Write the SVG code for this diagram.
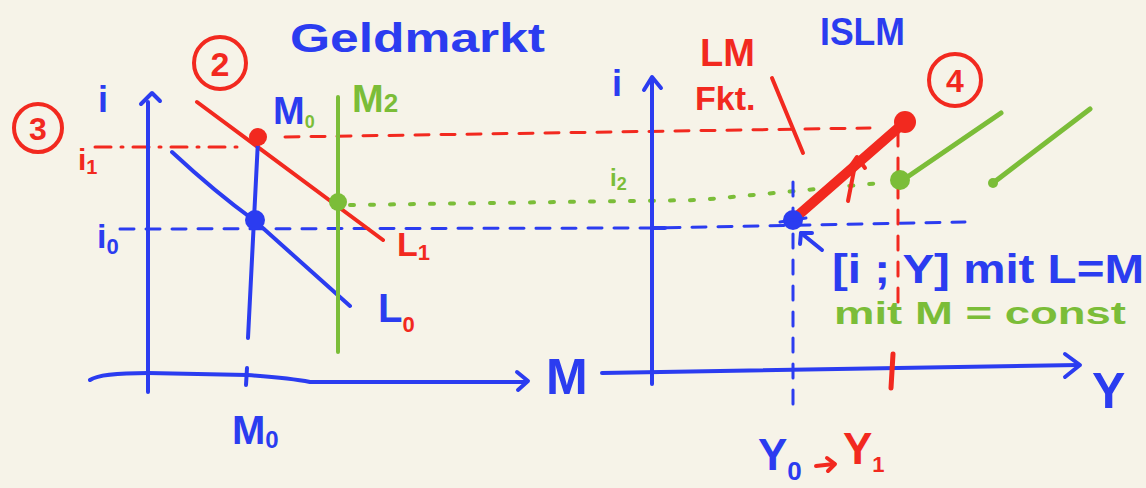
<svg xmlns="http://www.w3.org/2000/svg" width="1146" height="488" viewBox="0 0 1146 488">
<style>
.s{fill:none;stroke-linecap:round;stroke-linejoin:round;stroke-width:4}
.b{stroke:#2b3cf0}.r{stroke:#f2291f}.g{stroke:#7bbd38}
.tb{fill:#2b3cf0}.tr{fill:#f2291f}.tg{fill:#7bbd38}
text{font-family:"Liberation Sans","DejaVu Sans",sans-serif;font-weight:bold}
.dash{stroke-dasharray:14 12}
.dot{stroke-dasharray:4 16}
.dd{stroke-dasharray:16 10 2 10}
.w3{stroke-width:3}.w5{stroke-width:5}.w9{stroke-width:10}
</style>
<rect width="1146" height="488" fill="#f6f3e8"/>

<g id="guides">
  <path class="s r dd w3" d="M95,147 L240,147"/>
  <path class="s r dash w3" d="M285,137 L870,128"/>
  <path class="s g dot" d="M350,205 L700,200 L880,183"/>
  <path class="s b dash w3" d="M120,229 L650,228 L965,222"/>
  <path class="s b dash w3" d="M793,182 L793,412"/>
  <path class="s r dash w3" d="M898,132 L898,310"/>
</g>

<g id="left-axes">
  <path class="s b" d="M148,392 L148,102"/>
  <path class="s b" d="M141,104 L152,93 L160,101"/>
  <path class="s b" d="M90,380 Q100,373 148,373 L247,375 Q290,378 310,382 L525,382"/>
  <path class="s b" d="M517,372 L528,381 L518,390"/>
  <path class="s b" d="M247,368 L246,385"/>
</g>

<g id="left-curves">
  <path class="s r" d="M197,102 L383,240"/>
  <path class="s b" d="M258,140 L248,338"/>
  <path class="s b" d="M172,152 Q215,192 255,221 L350,306"/>
  <path class="s g" d="M338,97 L338,352"/>
</g>

<g id="left-points">
  <circle cx="258" cy="137" r="9" class="tr"/>
  <circle cx="255" cy="220" r="10" class="tb"/>
  <circle cx="338" cy="202" r="9" class="tg"/>
</g>

<g id="left-labels">
  <text x="98" y="112" font-size="36" class="tb">i</text>
  <text x="78" y="170" font-size="30" class="tr">i<tspan font-size="20" dy="4">1</tspan></text>
  <text x="97" y="248" font-size="34" class="tb">i<tspan font-size="22" dy="6">0</tspan></text>
  <text x="273" y="124" font-size="38" class="tb">M<tspan font-size="18" dy="4" class="tg">0</tspan></text>
  <text x="352" y="112" font-size="38" class="tg">M<tspan font-size="26" dy="0">2</tspan></text>
  <text x="397" y="256" font-size="34" class="tr">L<tspan font-size="22" dy="4">1</tspan></text>
  <text x="378" y="322" font-size="40" class="tb">L<tspan font-size="22" dy="10" class="tr">0</tspan></text>
  <text x="232" y="444" font-size="40" class="tb">M<tspan font-size="24" dy="4">0</tspan></text>
  <text x="546" y="394" font-size="50" class="tb">M</text>
  <text x="290" y="52" font-size="40" class="tb" textLength="255" lengthAdjust="spacingAndGlyphs">Geldmarkt</text>
</g>

<g id="step-3">
  <circle cx="38" cy="128" r="24" class="s r"/>
  <text x="38" y="140" font-size="32" text-anchor="middle" class="tr">3</text>
</g>
<g id="step-2">
  <circle cx="220" cy="63" r="26" class="s r"/>
  <text x="220" y="76" font-size="34" text-anchor="middle" class="tr">2</text>
</g>
<g id="step-4">
  <circle cx="955" cy="80" r="26" class="s r"/>
  <text x="955" y="92" font-size="32" text-anchor="middle" class="tr">4</text>
</g>

<g id="right-axes">
  <path class="s b" d="M652,384 L652,80"/>
  <path class="s b" d="M644,90 L652,77 L661,88"/>
  <path class="s b" d="M602,373 L1078,365"/>
  <path class="s b" d="M1065,354 L1080,365 L1065,377"/>
  <path class="s r w5" d="M893,354 L891,388"/>
  <path class="s b" d="M652,228 L665,228"/>
</g>

<g id="lm-curve">
  <path class="s r w9" d="M795,218 L905,122"/>
  <circle cx="905" cy="122" r="11" class="tr"/>
  <circle cx="793" cy="220" r="10" class="tb"/>
  <path class="s b w3" d="M780,222 L806,218"/>
</g>

<g id="green-curves">
  <path class="s g w5" d="M900,182 L1001,113"/>
  <circle cx="900" cy="180" r="10" class="tg"/>
  <path class="s g w5" d="M993,183 L1090,109"/>
  <circle cx="993" cy="183" r="5" class="tg"/>
</g>

<g id="connectors">
  <path class="s r" d="M848,201 L856,160"/>
  <path class="s r" d="M848,170 L857,157 L865,168"/>
  <path class="s r" d="M772,78 L803,153"/>
  <path class="s b" d="M822,250 L801,233"/>
  <path class="s b" d="M800,244 L801,233 L812,233"/>
  <path class="s r" d="M816,466 L834,464"/>
  <path class="s r" d="M827,458 L835,464 L828,471"/>
</g>

<g id="right-labels">
  <text x="612" y="96" font-size="36" class="tb">i</text>
  <text x="610" y="186" font-size="24" class="tg">i<tspan font-size="18" dy="4">2</tspan></text>
  <text x="700" y="66" font-size="38" class="tr">LM</text>
  <text x="695" y="110" font-size="34" class="tr">Fkt.</text>
  <text x="820" y="45" font-size="38" class="tb" textLength="85" lengthAdjust="spacingAndGlyphs">ISLM</text>
  <text x="832" y="283" font-size="40" class="tb" textLength="312" lengthAdjust="spacingAndGlyphs">[i ; Y] mit L=M</text>
  <text x="834" y="324" font-size="32" class="tg" textLength="292" lengthAdjust="spacingAndGlyphs">mit M = const</text>
  <text x="1092" y="408" font-size="50" class="tb">Y</text>
  <text x="758" y="470" font-size="44" class="tb">Y<tspan font-size="26" dy="10">0</tspan></text>
  <text x="843" y="464" font-size="44" class="tr">Y<tspan font-size="22" dy="8">1</tspan></text>
</g>
</svg>
